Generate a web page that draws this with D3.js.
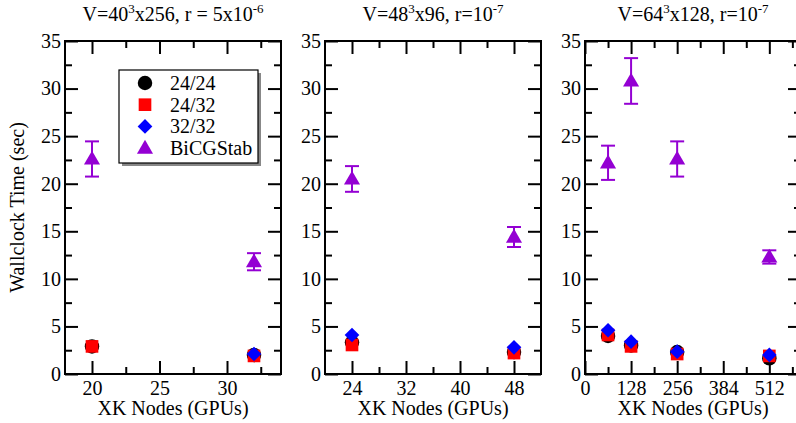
<!DOCTYPE html>
<html>
<head>
<meta charset="utf-8">
<script src="https://cdn.jsdelivr.net/npm/d3@7"></script>
<style>
  html, body { margin: 0; padding: 0; background: #fff; overflow: hidden; }
  svg { display: block; font-family: "Liberation Serif", "DejaVu Serif", serif; }
</style>
</head>
<body>
<div id="chart"></div>
<script>
// ── Data ────────────────────────────────────────────────────────────────
const seriesNames = ["24/24", "24/32", "32/32", "BiCGStab"];
const seriesColors = ["#000000", "#ff0000", "#0000ff", "#9400d3"];

const panelNodes = [[20, 32], [24, 48], [64, 128, 256, 512]];
const time2424   = [[2.9, 2.0], [3.3, 2.3], [4.0, 3.0, 2.3, 1.65]];
const time2432   = [[2.9, 1.9], [3.05, 2.2], [4.1, 2.9, 2.1, 1.9]];
const time3232   = [[null, 2.1], [4.1, 2.8], [4.6, 3.4, 2.35, 2.0]];
const timeBiCG   = [[22.6, 11.8], [20.5, 14.4], [22.2, 30.8, 22.6, 12.3]];
const errBiCG    = [[1.85, 0.9], [1.35, 1.05], [1.8, 2.4, 1.85, 0.7]];

const xDomains    = [[18, 34], [20, 52], [0, 600]];
const xMajorTicks = [[20, 25, 30], [24, 32, 40, 48], [0, 128, 256, 384, 512]];
const xMinorTicks = [[22.5, 27.5, 32.5], [28, 36, 44], [64, 192, 320, 448, 576]];
const yMajorTicks = [0, 5, 10, 15, 20, 25, 30, 35];
const yMinorTicks = [2.5, 7.5, 12.5, 17.5, 22.5, 27.5, 32.5];

// title parts: [text, isSuperscript]
const panelTitles = [
    [["V=40", 0], ["3", 1], ["x256, r = 5x10", 0], ["-6", 1]],
    [["V=48", 0], ["3", 1], ["x96, r=10", 0], ["-7", 1]],
    [["V=64", 0], ["3", 1], ["x128, r=10", 0], ["-7", 1]]
];

// ── Layout ──────────────────────────────────────────────────────────────
const W = 796, H = 423;
const panelLeft = [65, 325, 585];
const panelW = 216;
const plotTop = 41, plotBottom = 374;
const FS = 20;

const svg = d3.select("#chart").append("svg")
    .attr("width", W).attr("height", H);

const y = d3.scaleLinear().domain([0, 35]).range([plotBottom, plotTop]);

// marker shapes
const symbols = [
    d3.symbol().type(d3.symbolCircle).size(165),
    d3.symbol().type(d3.symbolSquare).size(160),
    d3.symbol().type(d3.symbolSquare).size(108),
    d3.symbol().type(d3.symbolTriangle).size(112)
];
const symbolRotate = [0, 0, 45, 0];

function drawMarker(g, i, cx, cy) {
    g.append("path")
        .attr("d", symbols[i]())
        .attr("transform", `translate(${cx},${cy}) rotate(${symbolRotate[i]})` + (i === 3 ? " translate(0,1)" : ""))
        .attr("fill", seriesColors[i]);
}

panelNodes.forEach((nodes, p) => {
    const x0 = panelLeft[p];
    const x = d3.scaleLinear().domain(xDomains[p]).range([x0, x0 + panelW]);
    const g = svg.append("g");

    // ── Axes (ticks inward) ──
    const styleAxis = sel => {
        sel.selectAll(".domain").remove();
        sel.selectAll("line").attr("stroke", "#000").attr("stroke-width", 2);
        sel.selectAll("text")
            .attr("fill", "#000")
            .style("font-size", FS + "px")
            .style("font-family", "Liberation Serif, serif");
    };

    g.append("g").attr("transform", `translate(0,${plotBottom})`)
        .call(d3.axisBottom(x).tickValues(xMajorTicks[p]).tickSize(-13).tickPadding(7)
            .tickFormat(d3.format("d")))
        .call(styleAxis);
    g.append("g").attr("transform", `translate(0,${plotBottom})`)
        .call(d3.axisBottom(x).tickValues(xMinorTicks[p]).tickSize(-7).tickFormat(""))
        .call(styleAxis);
    g.append("g").attr("transform", `translate(0,${plotTop})`)
        .call(d3.axisTop(x).tickValues(xMajorTicks[p]).tickSize(-13).tickFormat(""))
        .call(styleAxis);
    g.append("g").attr("transform", `translate(0,${plotTop})`)
        .call(d3.axisTop(x).tickValues(xMinorTicks[p]).tickSize(-7).tickFormat(""))
        .call(styleAxis);

    g.append("g").attr("transform", `translate(${x0},0)`)
        .call(d3.axisLeft(y).tickValues(yMajorTicks).tickSize(-13).tickPadding(4))
        .call(styleAxis);
    g.append("g").attr("transform", `translate(${x0},0)`)
        .call(d3.axisLeft(y).tickValues(yMinorTicks).tickSize(-7).tickFormat(""))
        .call(styleAxis);
    g.append("g").attr("transform", `translate(${x0 + panelW},0)`)
        .call(d3.axisRight(y).tickValues(yMajorTicks).tickSize(-13).tickFormat(""))
        .call(styleAxis);
    g.append("g").attr("transform", `translate(${x0 + panelW},0)`)
        .call(d3.axisRight(y).tickValues(yMinorTicks).tickSize(-7).tickFormat(""))
        .call(styleAxis);

    // frame
    g.append("rect")
        .attr("x", x0).attr("y", plotTop)
        .attr("width", panelW).attr("height", plotBottom - plotTop)
        .attr("fill", "none").attr("stroke", "#000").attr("stroke-width", 2);

    // ── Data ──
    const series = [time2424[p], time2432[p], time3232[p], timeBiCG[p]];
    series.forEach((vals, s) => {
        vals.forEach((v, k) => {
            if (v == null) return;
            const cx = x(nodes[k]), cy = y(v);
            if (s === 3) {
                const e = errBiCG[p][k];
                const eg = g.append("g")
                    .attr("stroke", seriesColors[3]).attr("stroke-width", 2);
                eg.append("line").attr("x1", cx).attr("x2", cx)
                    .attr("y1", y(v - e)).attr("y2", y(v + e));
                [v - e, v + e].forEach(ev => {
                    eg.append("line").attr("x1", cx - 7).attr("x2", cx + 7)
                        .attr("y1", y(ev)).attr("y2", y(ev));
                });
            }
            drawMarker(g, s, cx, cy);
        });
    });

    // ── Title ──
    const t = svg.append("text")
        .attr("x", x0 + panelW / 2).attr("y", 21)
        .attr("text-anchor", "middle")
        .style("font-size", FS + "px");
    panelTitles[p].forEach(([txt, sup], i) => {
        const prevSup = i > 0 && panelTitles[p][i - 1][1];
        t.append("tspan")
            .attr("dy", sup ? -8 : (prevSup ? 8 : 0))
            .style("font-size", sup ? "13px" : FS + "px")
            .text(txt);
    });

    // x axis label
    svg.append("text")
        .attr("x", x0 + panelW / 2).attr("y", 415)
        .attr("text-anchor", "middle")
        .style("font-size", FS + "px")
        .text("XK Nodes (GPUs)");
});

// y axis label
svg.append("text")
    .attr("transform", `translate(24,${(plotTop + plotBottom) / 2}) rotate(-90)`)
    .attr("text-anchor", "middle")
    .style("font-size", FS + "px")
    .text("Wallclock Time (sec)");

// ── Legend ──────────────────────────────────────────────────────────────
const lg = svg.append("g");
const lx = 119, ly = 70, lw = 139, lh = 93;
lg.append("rect").attr("x", lx + 3).attr("y", ly + 3).attr("width", lw).attr("height", lh)
    .attr("fill", "#888");
lg.append("rect").attr("x", lx).attr("y", ly).attr("width", lw).attr("height", lh)
    .attr("fill", "#fff").attr("stroke", "#000").attr("stroke-width", 1.2);
seriesNames.forEach((name, i) => {
    const cy = 83 + i * 21.7;
    drawMarker(lg, i, 145, cy);
    lg.append("text")
        .attr("x", 170).attr("y", cy + 7)
        .style("font-size", FS + "px")
        .text(name);
});
</script>
</body>
</html>
